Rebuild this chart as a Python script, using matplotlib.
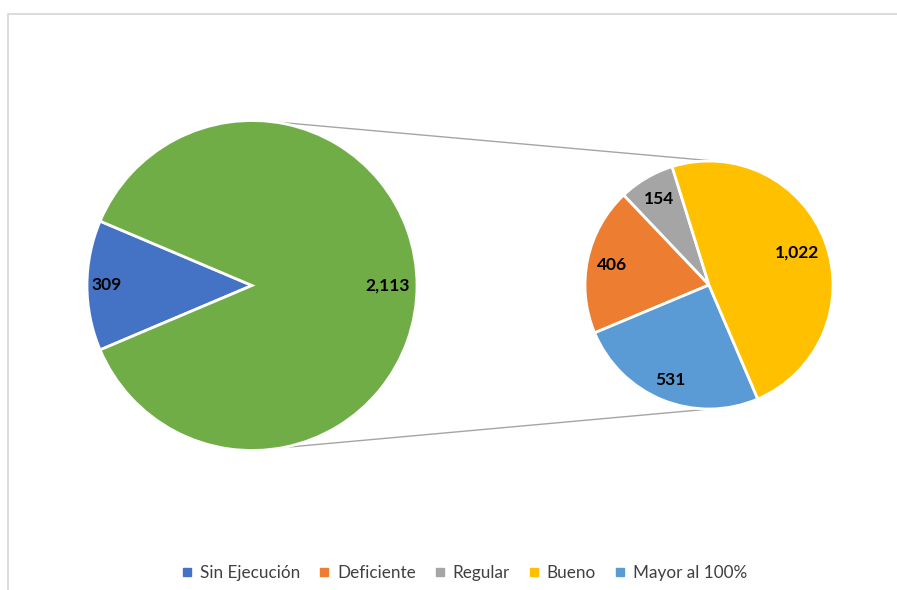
import numpy as np
import matplotlib.pyplot as plt
from matplotlib.lines import Line2D

plt.rcParams['font.family'] = ['Lato', 'DejaVu Sans']

# main pie: "Sin Ejecución" vs. the rest that is broken out on the right
main_labels = ['Sin Ejecución', 'Otros']
main_values = [309, 2113]
main_colors = ['#4472C4', '#70AD47']

# secondary pie (breakdown of 2,113), counterclockwise order
sub_labels = ['Regular', 'Deficiente', 'Mayor al 100%', 'Bueno']
sub_values = [154, 406, 531, 1022]
sub_colors = ['#A5A5A5', '#ED7D31', '#5B9BD5', '#FFC000']

legend_labels = ['Sin Ejecución', 'Deficiente', 'Regular', 'Bueno', 'Mayor al 100%']
legend_colors = ['#4472C4', '#ED7D31', '#A5A5A5', '#FFC000', '#5B9BD5']

W, H = 897, 590
fig = plt.figure(figsize=(W / 100, H / 100), dpi=100)
ax = fig.add_axes([0, 0, 1, 1])

c1, r1 = (252, H - 285.5), 165
c2, r2 = (709, H - 285), 124


def draw_pie(values, colors, center, radius, start, dists):
    wedges, _ = ax.pie(values, colors=colors, center=center, radius=radius,
                       startangle=start, counterclock=True,
                       wedgeprops=dict(edgecolor='white', linewidth=2))
    for w, v, d in zip(wedges, values, dists):
        mid = np.radians((w.theta1 + w.theta2) / 2)
        ax.text(center[0] + d * radius * np.cos(mid),
                center[1] + d * radius * np.sin(mid),
                '{:,}'.format(v), ha='center', va='center',
                fontsize=12.5, fontweight='bold', color='black')


main_span = main_values[0] / sum(main_values) * 360
draw_pie(main_values, main_colors, c1, r1, 180 - main_span / 2, [0.88, 0.82])
draw_pie(sub_values, sub_colors, c2, r2, 107.3, [0.8, 0.8, 0.83, 0.76])

# connector lines between the two pies
for a1, a2 in [(83.7, 86.3), (-79.2, -89.5)]:
    p1 = (c1[0] + r1 * np.cos(np.radians(a1)), c1[1] + r1 * np.sin(np.radians(a1)))
    p2 = (c2[0] + r2 * np.cos(np.radians(a2)), c2[1] + r2 * np.sin(np.radians(a2)))
    ax.plot([p1[0], p2[0]], [p1[1], p2[1]], color='#A5A5A5', lw=1, zorder=0)

# chart area border (left and top edges visible)
ax.plot([8, 8, W + 5], [-5, H - 14, H - 14], color='#D9D9D9', lw=1.3, zorder=0)

ax.set_xlim(0, W)
ax.set_ylim(0, H)
ax.set_aspect('equal')
ax.axis('off')

handles = [Line2D([], [], marker='s', linestyle='', markersize=6,
                  markerfacecolor=c, markeredgecolor=c) for c in legend_colors]
fig.legend(handles, legend_labels, loc='center', bbox_to_anchor=(0.517, 1 - 573 / H),
           ncol=5, frameon=False, fontsize=12.3, handlelength=0.8,
           handletextpad=0.35, columnspacing=1.0, labelcolor='#404040')

fig.savefig('out.png', dpi=100)
